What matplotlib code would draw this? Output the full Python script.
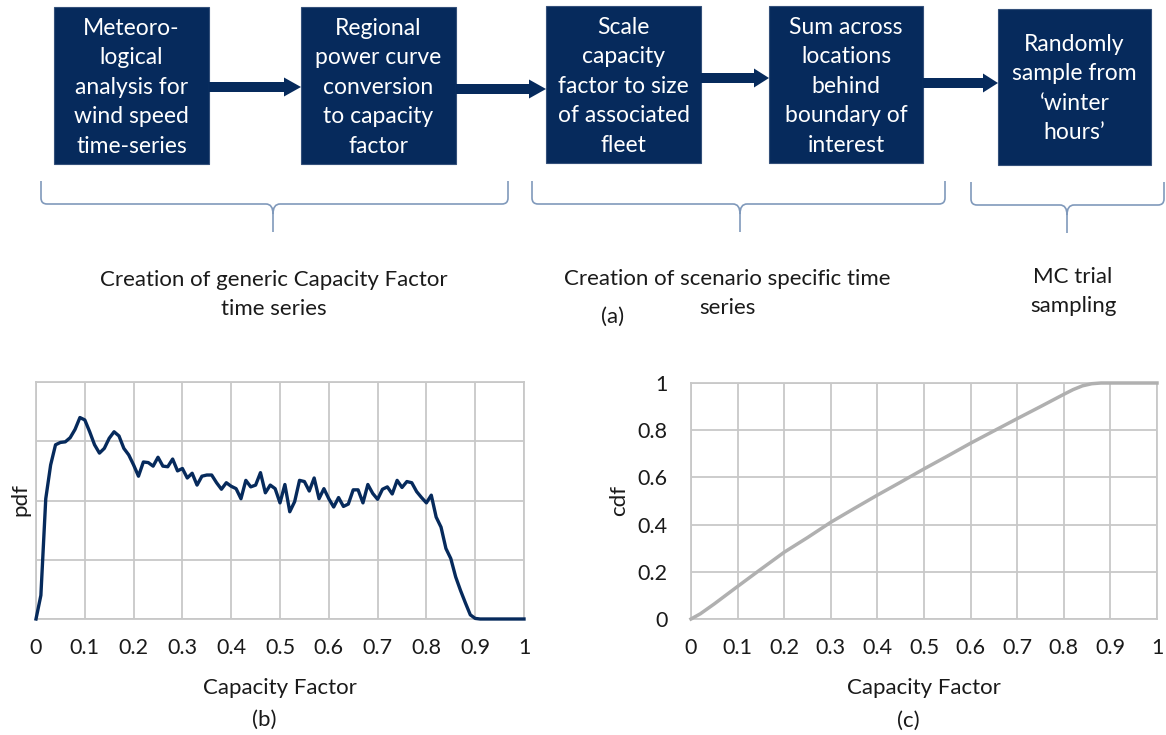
import numpy as np
import matplotlib
matplotlib.use("Agg")
import matplotlib.pyplot as plt
from matplotlib.patches import Rectangle, Polygon, PathPatch
from matplotlib.path import Path

plt.rcParams['font.family'] = ['Lato', 'DejaVu Sans']

# ---------------------------------------------------------------- data
step_texts = [
    ["Meteoro-", "logical", "analysis for", "wind speed", "time-series"],
    ["Regional", "power curve", "conversion", "to capacity", "factor"],
    ["Scale", "capacity", "factor to size", "of associated", "fleet"],
    ["Sum across", "locations", "behind", "boundary of", "interest"],
    ["Randomly", "sample from", "\u2018winter", "hours\u2019"],
]
stage_texts = [
    ["Creation of generic Capacity Factor", "time series"],
    ["Creation of scenario specific time", "series"],
    ["MC trial", "sampling"],
]

cf_ticks = [0.0, 0.1, 0.2, 0.3, 0.4, 0.5, 0.6, 0.7, 0.8, 0.9, 1.0]
cf_tick_labels = ["0", "0.1", "0.2", "0.3", "0.4", "0.5", "0.6", "0.7", "0.8", "0.9", "1"]
cdf_ticks = [0.0, 0.2, 0.4, 0.6, 0.8, 1.0]
cdf_tick_labels = ["0", "0.2", "0.4", "0.6", "0.8", "1"]

# capacity factor bins (0.00 .. 1.00) and pdf height on each bin
cf_bins = np.linspace(0.0, 1.0, 101)
pdf_values = [
    0.00, 0.40, 2.03, 2.60, 2.94, 2.98, 2.99, 3.06, 3.20, 3.40,
    3.36, 3.16, 2.94, 2.80, 2.88, 3.05, 3.16, 3.09, 2.88, 2.77,
    2.60, 2.41, 2.65, 2.64, 2.58, 2.73, 2.58, 2.57, 2.70, 2.50,
    2.54, 2.38, 2.46, 2.26, 2.41, 2.43, 2.43, 2.30, 2.19, 2.30,
    2.24, 2.20, 2.03, 2.34, 2.23, 2.26, 2.47, 2.13, 2.26, 2.20,
    1.96, 2.27, 1.81, 1.98, 2.34, 2.32, 2.16, 2.38, 2.03, 2.20,
    2.03, 1.89, 2.05, 1.90, 1.94, 2.18, 2.18, 1.96, 2.27, 2.12,
    2.02, 2.19, 2.23, 2.11, 2.34, 2.22, 2.32, 2.30, 2.15, 2.05,
    1.96, 2.09, 1.72, 1.55, 1.19, 1.02, 0.71, 0.48, 0.27, 0.07,
    0.01, 0.00, 0.00, 0.00, 0.00, 0.00, 0.00, 0.00, 0.00, 0.00,
    0.00,
]

cdf_x = [0.00, 0.02, 0.05, 0.10, 0.15, 0.20, 0.25, 0.30, 0.35, 0.40, 0.45,
         0.50, 0.55, 0.60, 0.65, 0.70, 0.75, 0.80, 0.82, 0.84, 0.86, 0.88,
         0.90, 0.95, 1.00]
cdf_y = [0.000, 0.022, 0.064, 0.138, 0.211, 0.283, 0.345, 0.410, 0.468, 0.525,
         0.580, 0.636, 0.690, 0.745, 0.797, 0.849, 0.900, 0.952, 0.972, 0.988,
         0.997, 1.000, 1.000, 1.000, 1.000]

# ---------------------------------------------------------------- style
W, H = 1166, 735
NAVY = "#062A5C"
GRID = "#C8C8C8"
BRACE = "#8099BB"
INK = "#1A1A1A"
CDF_LINE = "#B0B0B0"

fig = plt.figure(figsize=(W / 100, H / 100), dpi=100)

# full-figure canvas in pixel units (y grows downward)
canvas = fig.add_axes([0, 0, 1, 1], zorder=0)
canvas.set_xlim(0, W)
canvas.set_ylim(H, 0)
canvas.axis("off")

# ---------------------------------------------------------------- flow chart
box_frames = [(54, 7, 209, 164), (301, 7, 456, 164), (546, 6, 701, 163),
              (769, 6, 923, 163), (998, 9, 1151, 165)]
line_step = 29.5
box_font = 16.5
for (l, t, r, b), lines in zip(box_frames, step_texts):
    canvas.add_patch(Rectangle((l, t), r - l, b - t, facecolor=NAVY,
                               edgecolor="#34507A", lw=0.8))
    cx, cy = (l + r) / 2, (t + b) / 2
    n = len(lines)
    for i, s in enumerate(lines):
        y = cy + (i - (n - 1) / 2) * line_step
        canvas.text(cx, y + 8, s, color="white", fontsize=box_font,
                    ha="center", va="baseline")


def flow_arrow(x0, x1, y, shaft=5.0, head=9.5, head_len=17.0):
    pts = [(x0, y - shaft), (x1 - head_len, y - shaft), (x1 - head_len, y - head),
           (x1, y), (x1 - head_len, y + head), (x1 - head_len, y + shaft),
           (x0, y + shaft)]
    canvas.add_patch(Polygon(pts, closed=True, facecolor=NAVY, edgecolor="none"))


flow_arrow(209, 301, 87)
flow_arrow(456, 546, 89)
flow_arrow(701, 769, 78, head_len=15)
flow_arrow(923, 998, 83, head_len=15)


def brace(x0, x1, xc, top=181, mid=204, tip=232, r=6.0, rt=7.0):
    verts = [(x0, top), (x0, mid - r), (x0, mid), (x0 + r, mid),
             (xc - rt, mid), (xc, mid), (xc, mid + rt + 3), (xc, tip),
             (xc, mid + rt + 3), (xc, mid), (xc + rt, mid),
             (x1 - r, mid), (x1, mid), (x1, mid - r), (x1, top)]
    codes = [Path.MOVETO, Path.LINETO, Path.CURVE3, Path.CURVE3,
             Path.LINETO, Path.CURVE3, Path.CURVE3, Path.LINETO,
             Path.MOVETO, Path.CURVE3, Path.CURVE3,
             Path.LINETO, Path.CURVE3, Path.CURVE3, Path.LINETO]
    canvas.add_patch(PathPatch(Path(verts, codes), facecolor="none",
                               edgecolor=BRACE, lw=1.2))


brace(41, 508, 273)
brace(532, 945, 740)
brace(971, 1164, 1067, top=182, mid=205, tip=233)

stage_centers = [(274, 280), (727, 279), (1073, 277)]
label_font = 16.0
tick_font = 15.5
for (cx, cy), lines in zip(stage_centers, stage_texts):
    for i, s in enumerate(lines):
        canvas.text(cx, cy + i * 28.5, s, color=INK, fontsize=label_font,
                    ha="center", va="center")

canvas.text(613, 317, "(a)", color=INK, fontsize=label_font, ha="center", va="center")

# ---------------------------------------------------------------- plots


def px_axes(left, top, right, bottom):
    return fig.add_axes([left / W, 1 - bottom / H, (right - left) / W, (bottom - top) / H],
                        zorder=1)


def style_axes(ax):
    ax.set_xlim(0, 1)
    ax.set_xticks(cf_ticks)
    ax.set_xticklabels(cf_tick_labels)
    ax.grid(True, color=GRID, lw=1.3)
    ax.set_axisbelow(True)
    ax.tick_params(length=0, pad=14, labelsize=tick_font, colors=INK)
    for sp in ax.spines.values():
        sp.set_color(GRID)
        sp.set_linewidth(1.3)
    ax.patch.set_alpha(0)


ax_pdf = px_axes(36, 382, 524, 619)
style_axes(ax_pdf)
ax_pdf.set_ylim(0, 4)
ax_pdf.set_yticks([0, 1, 2, 3, 4])
ax_pdf.set_yticklabels([])
ax_pdf.plot(cf_bins, pdf_values, color=NAVY, lw=2.4, clip_on=False,
            solid_joinstyle="round", zorder=3)

ax_cdf = px_axes(691, 383, 1157, 619)
style_axes(ax_cdf)
ax_cdf.set_ylim(0, 1)
ax_cdf.set_yticks(cdf_ticks)
ax_cdf.set_yticklabels(cdf_tick_labels)
ax_cdf.tick_params(axis="y", pad=17)
ax_cdf.plot(cdf_x, cdf_y, color=CDF_LINE, lw=2.5, clip_on=False,
            solid_joinstyle="round", zorder=3)

canvas.text(20, 500, "pdf", color=INK, fontsize=label_font, rotation=90,
            ha="center", va="center")
canvas.text(619, 501, "cdf", color=INK, fontsize=label_font, rotation=90,
            ha="center", va="center")
canvas.text(280, 688, "Capacity Factor", color=INK, fontsize=label_font,
            ha="center", va="center")
canvas.text(924, 688, "Capacity Factor", color=INK, fontsize=label_font,
            ha="center", va="center")
canvas.text(264, 720, "(b)", color=INK, fontsize=label_font, ha="center", va="center")
canvas.text(908, 721, "(c)", color=INK, fontsize=label_font, ha="center", va="center")

fig.savefig("out.png", dpi=100)
